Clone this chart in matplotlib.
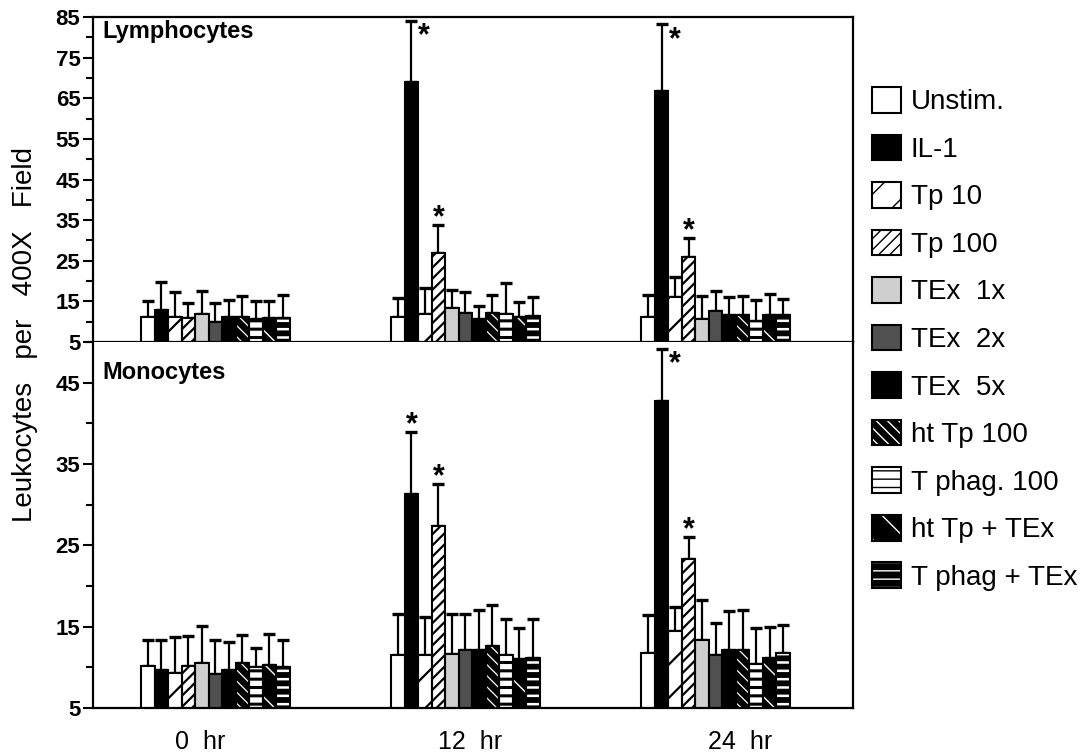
import numpy as np
import matplotlib
matplotlib.use("Agg")
import matplotlib.pyplot as plt
from matplotlib.patches import Patch

# values: mean and upper SD, rows = treatment, cols = 0 / 12 / 24 hr
times = ["0  hr", "12  hr", "24  hr"]
groups = ["Unstim.", "IL-1", "Tp 10", "Tp 100", "TEx  1x", "TEx  2x", "TEx  5x",
          "ht Tp 100", "T phag. 100", "ht Tp + TEx", "T phag + TEx"]

lymph_mean = np.array([
    [11.2, 11.2, 11.2],
    [12.8, 68.9, 66.9],
    [11.2, 12.0, 16.1],
    [11.0, 26.9, 25.9],
    [11.8, 13.3, 10.6],
    [10.0, 12.2, 12.7],
    [11.2, 10.6, 11.6],
    [11.2, 12.2, 11.6],
    [10.6, 11.9, 10.2],
    [10.8, 11.1, 11.6],
    [10.8, 11.4, 11.6],
])
lymph_sd = np.array([
    [3.9, 4.7, 5.3],
    [7.0, 15.1, 16.3],
    [6.0, 6.2, 4.9],
    [3.6, 6.8, 4.8],
    [5.7, 4.6, 5.7],
    [4.5, 5.1, 4.9],
    [4.1, 3.2, 4.5],
    [5.2, 4.3, 4.7],
    [4.5, 7.7, 5.1],
    [4.3, 3.8, 5.2],
    [5.8, 4.7, 4.1],
])

mono_mean = np.array([
    [10.1, 11.5, 11.8],
    [9.7, 31.3, 42.7],
    [9.3, 11.5, 14.5],
    [10.1, 27.4, 23.3],
    [10.5, 11.6, 13.3],
    [9.2, 12.1, 11.5],
    [9.7, 12.1, 12.1],
    [10.5, 12.6, 12.1],
    [10.0, 11.5, 10.4],
    [10.3, 11.0, 11.2],
    [10.0, 11.2, 11.7],
])
mono_sd = np.array([
    [3.3, 5.0, 4.6],
    [3.7, 7.6, 6.5],
    [4.4, 4.7, 2.9],
    [3.7, 5.1, 2.7],
    [4.6, 4.9, 5.0],
    [4.2, 4.4, 3.9],
    [3.4, 5.0, 4.8],
    [3.5, 5.1, 5.0],
    [2.4, 4.4, 4.4],
    [3.8, 3.8, 3.7],
    [3.3, 4.7, 3.5],
])

# significant bars: (time index, treatment index, where the star goes)
lymph_sig = [(1, 1, "right"), (1, 3, "above"), (2, 1, "right"), (2, 3, "above")]
mono_sig = [(1, 1, "above"), (1, 3, "above"), (2, 1, "right"), (2, 3, "above")]

# face colour, hatch, hatch colour, hatch line width
styles = [
    ("white", None, "black", 1.0),
    ("black", None, "black", 1.0),
    ("white", "/", "black", 1.6),
    ("white", "///", "black", 1.6),
    ("#cfcfcf", None, "black", 1.0),
    ("#505050", None, "black", 1.0),
    ("black", None, "black", 1.0),
    ("black", "\\\\\\", "white", 0.9),
    ("white", "--", "black", 2.2),
    ("black", "\\", "white", 1.0),
    ("black", "--", "white", 1.8),
]

plt.rcParams["font.family"] = ["Liberation Sans", "DejaVu Sans"]

w = 0.054
xg = np.arange(len(times))


def draw_panel(ax, means, sds, sig):
    for i in range(len(groups)):
        x = xg + (i - 5) * w
        face, hatch, hc, hlw = styles[i]
        with plt.rc_context({"hatch.linewidth": hlw}):
            ax.bar(x, means[i], w, color=face, edgecolor=hc, hatch=hatch, linewidth=0, zorder=2)
        ax.bar(x, means[i], w, facecolor="none", edgecolor="black", linewidth=1.5, zorder=3)
        ax.errorbar(x, means[i], yerr=[np.zeros(len(times)), sds[i]], fmt="none",
                    ecolor="black", elinewidth=1.6, capsize=4, capthick=2.4, zorder=1,
                    clip_on=False)
    for t, i, where in sig:
        x = xg[t] + (i - 5) * w
        top = means[i][t] + sds[i][t]
        if where == "above":
            ax.annotate("*", xy=(x, top), xytext=(0, -6), textcoords="offset points",
                        ha="center", va="bottom", fontsize=22, fontweight="bold")
        else:
            ax.annotate("*", xy=(x, top), xytext=(5, -22), textcoords="offset points",
                        ha="left", va="bottom", fontsize=22, fontweight="bold")


fig = plt.figure(figsize=(10.81, 7.55), dpi=100)
ax1 = fig.add_axes([0.0860, 0.5470, 0.7031, 0.4305])
ax2 = fig.add_axes([0.0860, 0.0623, 0.7031, 0.4847])

draw_panel(ax1, lymph_mean, lymph_sd, lymph_sig)
draw_panel(ax2, mono_mean, mono_sd, mono_sig)

for ax in (ax1, ax2):
    ax.set_xlim(-0.49, 2.55)
    for s in ax.spines.values():
        s.set_linewidth(1.6)
    ax.tick_params(axis="y", which="major", direction="out", length=7, width=1.5,
                   labelsize=16, pad=2)
    ax.tick_params(axis="y", which="minor", direction="out", length=5, width=1.5)

ax1.set_ylim(5, 85)
ax1.set_yticks(np.arange(5, 86, 10))
ax1.set_yticks(np.arange(10, 81, 10), minor=True)
ax1.set_xticks([])
for lab in ax1.get_yticklabels():
    lab.set_fontweight("bold")

ax2.set_ylim(5, 50)
ax2.set_yticks(np.arange(5, 46, 10))
ax2.set_yticks(np.arange(10, 51, 10), minor=True)
ax2.spines["top"].set_visible(False)
ax2.set_xticks(xg + np.array([-0.06, 0.02, 0.1]))
ax2.set_xticklabels(times, fontsize=18)
ax2.tick_params(axis="x", length=0, pad=16)
for lab in ax2.get_yticklabels():
    lab.set_fontweight("bold")

ax1.text(0.013, 0.955, "Lymphocytes", transform=ax1.transAxes, fontsize=17,
         fontweight="bold", ha="left", va="center")
ax2.text(0.013, 0.918, "Monocytes", transform=ax2.transAxes, fontsize=17,
         fontweight="bold", ha="left", va="center")

fig.text(25 / 1081, 1 - 335 / 755, "Leukocytes   per   400X   Field", rotation=90,
         ha="center", va="center", fontsize=20)

handles = []
for face, hatch, hc, hlw in styles:
    with plt.rc_context({"hatch.linewidth": hlw}):
        hp = Patch(facecolor=face, edgecolor=hc, hatch=hatch, linewidth=0)
    handles.append((hp, Patch(facecolor="none", edgecolor="black", linewidth=1.5)))
fig.legend(handles, groups, loc="upper left", bbox_to_anchor=(872 / 1081, 1 - 87 / 755),
           frameon=False, fontsize=20, handlelength=1.05, handleheight=1.05,
           handletextpad=0.35, labelspacing=0.69, borderpad=0, borderaxespad=0)

fig.savefig("out.png", dpi=100)
